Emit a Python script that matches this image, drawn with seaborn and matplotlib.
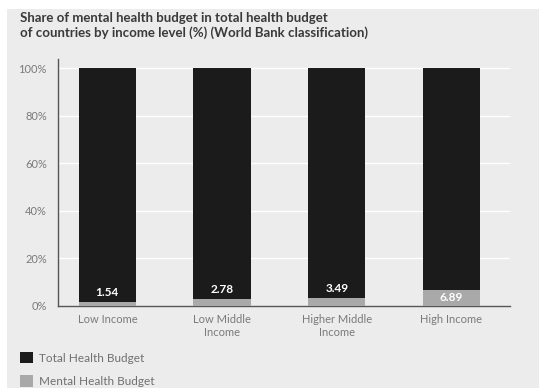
import matplotlib
matplotlib.use("Agg")
import matplotlib.pyplot as plt
import matplotlib.patches as mpatches
import seaborn as sns
import pandas as pd

categories = ["Low Income", "Low Middle\nIncome", "Higher Middle\nIncome", "High Income"]
total_budget = [100, 100, 100, 100]
mental_budget = [1.54, 2.78, 3.49, 6.89]
yticks = [0, 20, 40, 60, 80, 100]
ytick_labels = ["0%", "20%", "40%", "60%", "80%", "100%"]
series_names = ["Total Health Budget", "Mental Health Budget"]
title_text = "Share of mental health budget in total health budget\nof countries by income level (%) (World Bank classification)"

sns.set_theme(style="white")
plt.rcParams['font.family'] = ['Lato', 'DejaVu Sans']

W, H = 539, 391
fig = plt.figure(figsize=(W / 100, H / 100), dpi=100)
fig.patch.set_facecolor("white")
# gray panel
fig.patches.append(mpatches.Rectangle((7 / W, 1 - 388 / H), 1 - 7 / W, (388 - 9) / H,
                                      transform=fig.transFigure, facecolor="#ececec",
                                      edgecolor="none", zorder=-10))

ax = fig.add_axes([58 / W, 1 - 306 / H, (510 - 58) / W, (306 - 58.5) / H])
ax.set_facecolor("#ececec")

df = pd.DataFrame({"cat": categories, "total": total_budget, "mental": mental_budget})
dark = "#1b1b1b"
gray = "#a9a9a9"
sns.barplot(data=df, x="cat", y="total", color=dark, width=0.5, ax=ax,
            saturation=1, edgecolor="none", zorder=3)
sns.barplot(data=df, x="cat", y="mental", color=gray, width=0.5, ax=ax,
            saturation=1, edgecolor="none", zorder=4)

for i, v in enumerate(mental_budget):
    ypos = v + 4.0 if v < 5 else v / 2
    ax.text(i, ypos, f"{v:.2f}", ha="center", va="center", color="white",
            fontsize=8.5, fontweight="bold", zorder=5)

ax.set_xlim(-0.43, 3.51)
ax.set_ylim(0, 104)
ax.set_yticks(yticks)
ax.set_yticklabels(ytick_labels)
ax.set_xlabel("")
ax.set_ylabel("")
ax.yaxis.grid(True, color="white", linewidth=1, zorder=1)
ax.set_axisbelow(True)
ax.tick_params(axis="both", length=0, labelsize=8, labelcolor="#7a7a7a", pad=6)
ax.tick_params(axis="y", pad=8)
for s in ["top", "right"]:
    ax.spines[s].set_visible(False)
for s in ["left", "bottom"]:
    ax.spines[s].set_color("#555555")
    ax.spines[s].set_linewidth(1)

fig.text(20 / W, 1 - 12 / H, title_text, ha="left", va="top", fontsize=9.5,
         fontweight="bold", color="#3a3a3a", linespacing=1.2)

handles = [mpatches.Patch(facecolor=dark, edgecolor="none"),
           mpatches.Patch(facecolor=gray, edgecolor="none")]
fig.legend(handles, series_names, loc="upper left", bbox_to_anchor=(20 / W, 1 - 352 / H),
           frameon=False, fontsize=8.5, labelcolor="#707070", handlelength=1.1,
           handleheight=1.1, handletextpad=0.5, labelspacing=1.0, borderpad=0,
           borderaxespad=0)

fig.savefig("out.png", dpi=100, facecolor=fig.get_facecolor())
